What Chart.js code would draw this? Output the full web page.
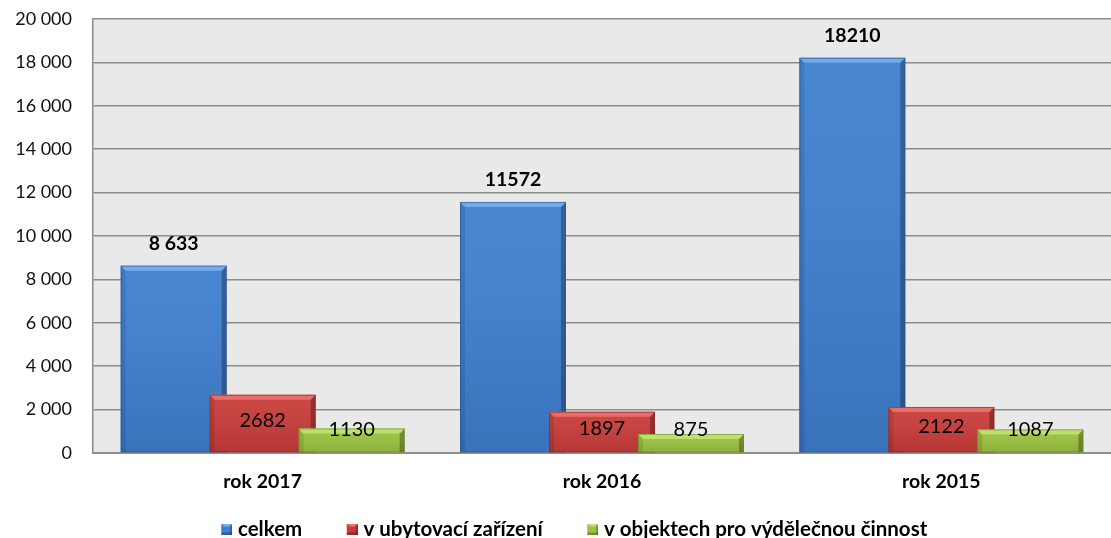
<!DOCTYPE html>
<html lang="cs">
<head>
<meta charset="utf-8">
<title>Počet hostů</title>
<script src="https://cdn.jsdelivr.net/npm/chart.js@4/dist/chart.umd.min.js"></script>
<style>
  html, body { margin: 0; padding: 0; background: #ffffff; }
  #wrap { width: 1111px; height: 538px; position: relative; }
</style>
</head>
<body>
<div id="wrap"><canvas id="chart" width="1111" height="538"></canvas></div>
<script>
// Categories and series
const categories = ['rok 2017', 'rok 2016', 'rok 2015'];
const seriesNames = ['celkem', 'v ubytovací zařízení', 'v objektech pro výdělečnou činnost'];
const celkem = [8633, 11572, 18210];
const ubytovaci = [2682, 1897, 2122];
const vydelecna = [1130, 875, 1087];
const celkemLabels = ['8 633', '11572', '18210'];

// Y axis
const yMin = 0;
const yMax = 20000;
const yStep = 2000;

// Palette: body, light bevel edge, dark shade
const palette = [
  { body: '#3e7fd0', light: '#7bb0ee', dark: '#25548f' },
  { body: '#c93c39', light: '#ea7673', dark: '#8c2523' },
  { body: '#9bc33f', light: '#c6e27a', dark: '#6b8c25' }
];

const FONT = 'Lato, "Open Sans", "Liberation Sans", sans-serif';
const SWATCH_BOX = 44;   // legend box width reserved per item
const SWATCH = 11;       // visible square

function fmtThousands(v) {
  return String(v).replace(/\B(?=(\d{3})+(?!\d))/g, ' ');
}

// legend swatch: transparent lead-in with a small bevelled square at its right end
function makeSwatch(p) {
  const c = document.createElement('canvas');
  c.width = SWATCH_BOX + 9; c.height = SWATCH;
  const g = c.getContext('2d');
  const x0 = c.width - SWATCH;
  g.fillStyle = p.body;
  g.fillRect(x0, 0, SWATCH, SWATCH);
  g.fillStyle = p.light;
  g.beginPath();
  g.moveTo(x0, 0); g.lineTo(x0 + SWATCH, 0); g.lineTo(x0 + SWATCH - 3, 3); g.lineTo(x0 + 3, 3); g.closePath();
  g.fill();
  g.fillStyle = 'rgba(0,0,0,0.25)';
  g.fillRect(x0 + SWATCH - 2, 2, 2, SWATCH - 2);
  g.fillRect(x0, SWATCH - 2, SWATCH, 2);
  return c;
}

// bevel overlay drawn on top of every bar of a dataset
function drawBevel(ctx, meta, p) {
  const b = 5;
  meta.data.forEach(el => {
    const { x, y, base, width } = el.getProps(['x', 'y', 'base', 'width'], true);
    const l = x - width / 2, r = x + width / 2, t = Math.min(y, base), bt = Math.max(y, base);
    const h = bt - t;
    const bb = Math.min(b, h / 2);
    const gv = ctx.createLinearGradient(0, t, 0, bt);
    gv.addColorStop(0, 'rgba(255,255,255,0.06)');
    gv.addColorStop(1, 'rgba(0,0,0,0.10)');
    ctx.fillStyle = gv;
    ctx.fillRect(l, t, width, h);
    ctx.fillStyle = 'rgba(0,0,0,0.10)';
    ctx.beginPath();
    ctx.moveTo(l, t); ctx.lineTo(l + bb, t + bb); ctx.lineTo(l + bb, bt); ctx.lineTo(l, bt); ctx.closePath();
    ctx.fill();
    ctx.fillStyle = 'rgba(0,0,0,0.28)';
    ctx.beginPath();
    ctx.moveTo(r, t); ctx.lineTo(r - bb, t + bb); ctx.lineTo(r - bb, bt); ctx.lineTo(r, bt); ctx.closePath();
    ctx.fill();
    ctx.fillStyle = p.light;
    ctx.globalAlpha = 0.85;
    ctx.beginPath();
    ctx.moveTo(l, t); ctx.lineTo(r, t); ctx.lineTo(r - bb, t + bb); ctx.lineTo(l + bb, t + bb); ctx.closePath();
    ctx.fill();
    ctx.globalAlpha = 0.6;
    ctx.strokeStyle = p.dark;
    ctx.lineWidth = 1;
    ctx.strokeRect(l + 0.5, t + 0.5, width - 1, h - 1);
    ctx.globalAlpha = 1;
  });
}

const plotBackground = {
  id: 'plotBackground',
  beforeDraw(chart) {
    const { ctx, chartArea: a } = chart;
    ctx.save();
    ctx.fillStyle = '#e9e9e9';
    ctx.fillRect(a.left, a.top, a.right - a.left, a.bottom - a.top);
    ctx.restore();
  }
};

// draws the bar series left to right so later series overlap earlier ones
const overlapBars = {
  id: 'overlapBars',
  beforeDatasetsDraw(chart) {
    const { ctx, chartArea: a } = chart;
    const metas = chart.getSortedVisibleDatasetMetas();
    ctx.save();
    ctx.beginPath();
    ctx.rect(a.left, a.top - 2, a.right - a.left, a.bottom - a.top + 2);
    ctx.clip();
    metas.forEach(meta => {
      meta.controller.draw();
      drawBevel(ctx, meta, palette[meta.index]);
    });
    ctx.restore();
    return false;
  }
};

const valueLabels = {
  id: 'valueLabels',
  afterDraw(chart) {
    const { ctx } = chart;
    ctx.save();
    ctx.textAlign = 'center';
    ctx.textBaseline = 'middle';
    ctx.fillStyle = '#000000';
    chart.getSortedVisibleDatasetMetas().forEach(meta => {
      meta.data.forEach((el, i) => {
        const { x, y, base } = el.getProps(['x', 'y', 'base'], true);
        if (meta.index === 0) {
          ctx.font = 'bold 19.5px ' + FONT;
          ctx.fillText(celkemLabels[i], x, y - 22);
        } else {
          const v = chart.data.datasets[meta.index].data[i];
          ctx.font = '20px ' + FONT;
          const cy = Math.min((y + base) / 2 - 3, base - 23);
          ctx.fillText(String(v), x, cy);
        }
      });
    });
    ctx.restore();
  }
};

const seriesData = [celkem, ubytovaci, vydelecna];

new Chart(document.getElementById('chart'), {
  type: 'bar',
  data: {
    labels: categories,
    datasets: seriesData.map((d, i) => ({
      label: seriesNames[i],
      data: d,
      backgroundColor: palette[i].body,
      borderWidth: 0,
      categoryPercentage: 0.787,
      barPercentage: 1.19,
      pointStyle: makeSwatch(palette[i])
    }))
  },
  options: {
    responsive: false,
    animation: false,
    devicePixelRatio: 1,
    layout: { padding: { left: 0, top: 19, right: 0, bottom: -11.25 } },
    plugins: {
      tooltip: { enabled: false },
      legend: {
        position: 'bottom',
        labels: {
          usePointStyle: true,
          pointStyleWidth: SWATCH_BOX,
          boxHeight: SWATCH,
          padding: 7,
          color: '#000000',
          font: { family: FONT, size: 20.5, weight: 'bold' }
        }
      }
    },
    scales: {
      x: {
        grid: { display: false, drawTicks: false },
        border: { display: true, color: '#8f8f8f', width: 2 },
        ticks: {
          color: '#000000',
          padding: 17,
          font: { family: FONT, size: 19.5, weight: 'bold' }
        },
        afterFit(scale) {
          scale.height = 58.75;
          scale.paddingLeft = 0;
          scale.paddingRight = 0;
        }
      },
      y: {
        min: yMin,
        max: yMax,
        grid: { color: '#8c8c8c', lineWidth: 1.5, drawTicks: false },
        border: { display: true, color: '#8c8c8c', width: 1.5 },
        ticks: {
          stepSize: yStep,
          padding: 21,
          color: '#111111',
          font: { family: FONT, size: 18 },
          callback: v => fmtThousands(v)
        },
        afterFit(scale) {
          scale.width = 93;
          scale.paddingTop = 0;
          scale.paddingBottom = 0;
        }
      }
    }
  },
  plugins: [plotBackground, overlapBars, valueLabels]
});
</script>
</body>
</html>
